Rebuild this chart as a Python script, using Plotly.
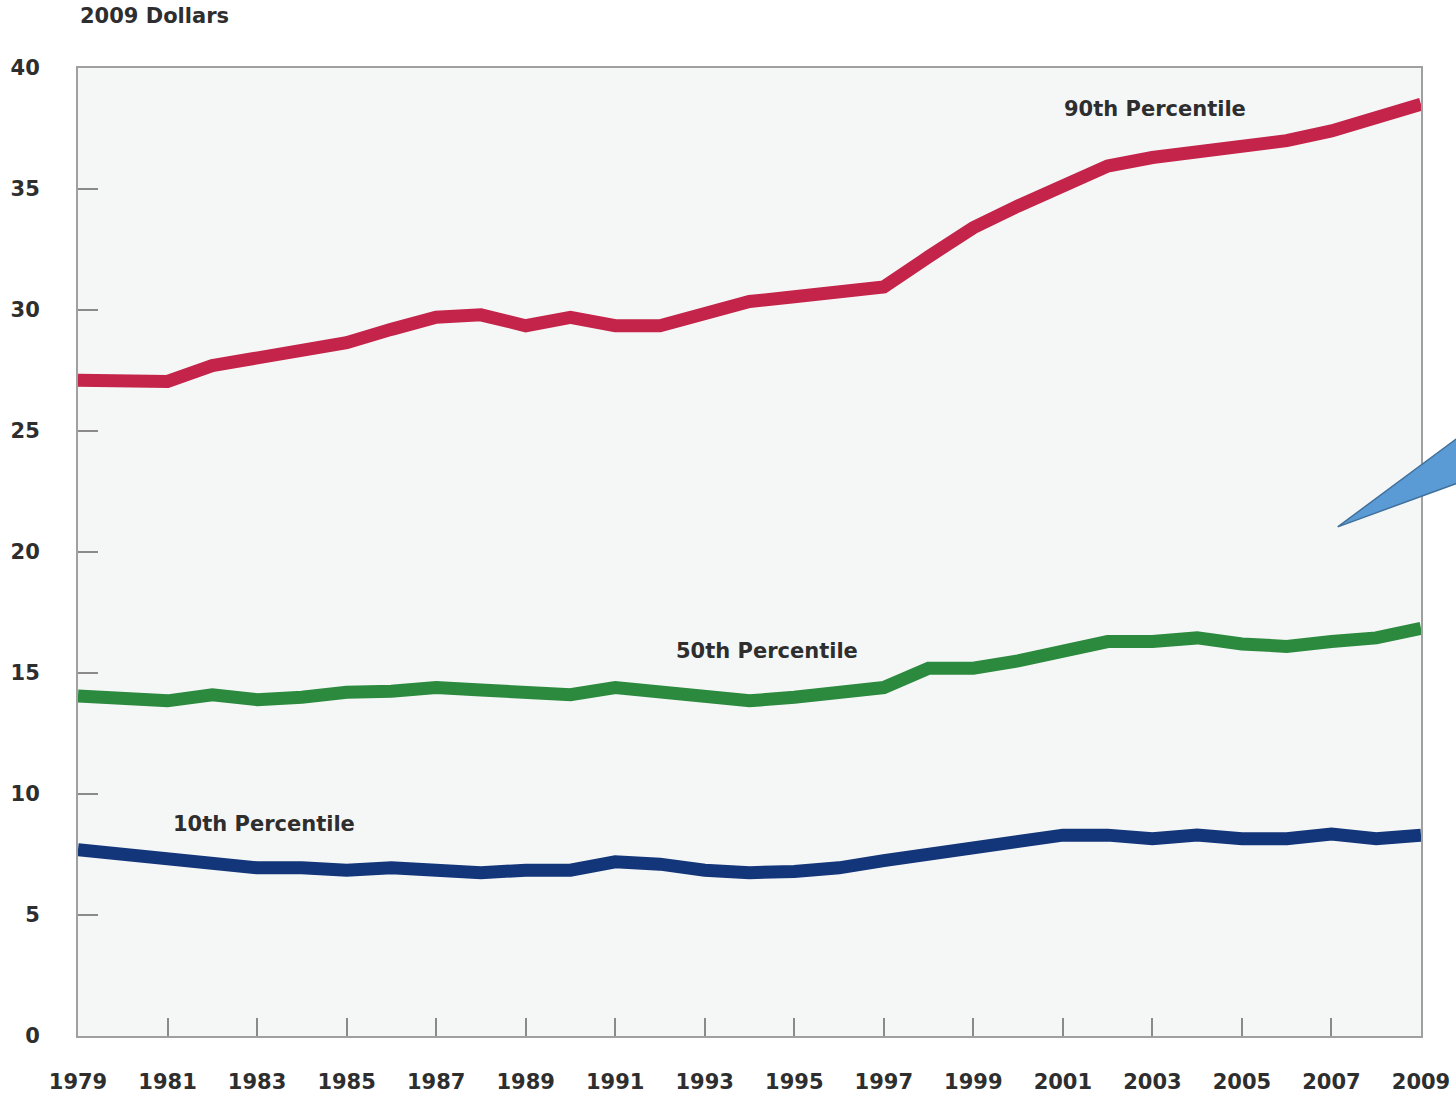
import plotly.graph_objs as go

# Hourly wages by percentile, 2009 dollars
years = list(range(1979, 2010))

p90 = [27.1, 27.05, 27.05, 27.7, 28.0, 28.35, 28.65, 29.2, 29.7, 29.8, 29.35, 29.7, 29.35, 29.35, 29.9,
       30.35, 30.55, 30.75, 30.95, 32.2, 33.4, 34.3, 35.1, 35.95, 36.3, 36.5, 36.7, 37.0, 37.4, 37.95, 38.5]
p50 = [14.05, 14.0, 13.85, 14.1, 13.9, 14.0, 14.2, 14.25, 14.4, 14.3, 14.2, 14.1, 14.4, 14.2, 14.0,
       13.85, 14.0, 14.15, 14.4, 15.2, 15.2, 15.5, 15.9, 16.3, 16.3, 16.45, 16.2, 16.1, 16.3, 16.45, 16.85]
p10 = [7.7, 7.5, 7.35, 7.15, 6.95, 6.95, 6.85, 6.95, 6.85, 6.75, 6.85, 6.85, 7.2, 7.1, 6.85,
       6.75, 6.8, 6.95, 7.25, 7.5, 7.7, 7.95, 8.3, 8.3, 8.15, 8.3, 8.15, 8.15, 8.35, 8.15, 8.3]

series_names = ["90th Percentile", "50th Percentile", "10th Percentile"]
series_colors = ["#C4234A", "#2B8A3E", "#13357A"]

# label positions (year, value) for the in-chart series labels
label_x = [2003.05, 1994.4, 1983.15]
label_y = [38.3, 15.9, 8.75]

x_ticks = list(range(1979, 2010, 2))
y_ticks = [0, 5, 10, 15, 20, 25, 30, 35, 40]

FONT = "DejaVu Sans, Verdana, sans-serif"
TEXT = "#2E2E2E"

fig = go.Figure()

for name, vals, color in zip(series_names, [p90, p50, p10], series_colors):
    fig.add_trace(
        go.Scatter(
            x=years,
            y=vals,
            mode="lines",
            name=name,
            line=dict(color=color, width=13),
            hoverinfo="x+y+name",
        )
    )

# series labels
for name, lx, ly in zip(series_names, label_x, label_y):
    fig.add_annotation(
        x=lx, y=ly, text="<b>" + name + "</b>", showarrow=False,
        font=dict(family=FONT, size=21, color=TEXT),
    )

# unit label above the axis
fig.add_annotation(
    xref="paper", yref="paper", x=0, y=1.054, xanchor="left", yanchor="middle",
    text="<b>2009 Dollars</b>", showarrow=False,
    font=dict(family=FONT, size=21, color=TEXT),
)

# callout pointer (blue wedge coming in from the right)
fig.add_shape(
    type="path", xref="paper", yref="paper",
    path="M 0.938 0.526 L 1.08 0.672 L 1.08 0.598 Z",
    fillcolor="#5B9BD5", line=dict(color="#41719C", width=1.5), layer="above",
)

fig.update_layout(
    width=1456,
    height=1096,
    showlegend=False,
    paper_bgcolor="white",
    plot_bgcolor="#F5F7F7",
    margin=dict(l=78, r=35, t=68, b=60),
)

fig.update_xaxes(
    range=[1979, 2009],
    tickvals=x_ticks,
    ticktext=[str(v) for v in x_ticks],
    ticks="inside",
    ticklen=18,
    tickwidth=2,
    tickcolor="#8A8A8A",
    ticklabelstandoff=26,
    tickfont=dict(family=FONT, size=21, color=TEXT, weight="bold"),
    showgrid=False,
    zeroline=False,
    showline=True,
    linecolor="#A0A0A0",
    linewidth=2,
    mirror=True,
    automargin=False,
)

fig.update_yaxes(
    range=[0, 40],
    tickvals=y_ticks,
    ticks="inside",
    ticklen=20,
    tickwidth=2,
    tickcolor="#8A8A8A",
    ticklabelstandoff=32,
    tickfont=dict(family=FONT, size=21, color=TEXT, weight="bold"),
    showgrid=False,
    zeroline=False,
    showline=True,
    linecolor="#A0A0A0",
    linewidth=2,
    mirror=True,
    automargin=False,
)

# drop the default page margin so the figure fills the window
fig.write_html(
    "out.html",
    config={"displayModeBar": False},
    post_script="document.body.style.margin='0';",
)
